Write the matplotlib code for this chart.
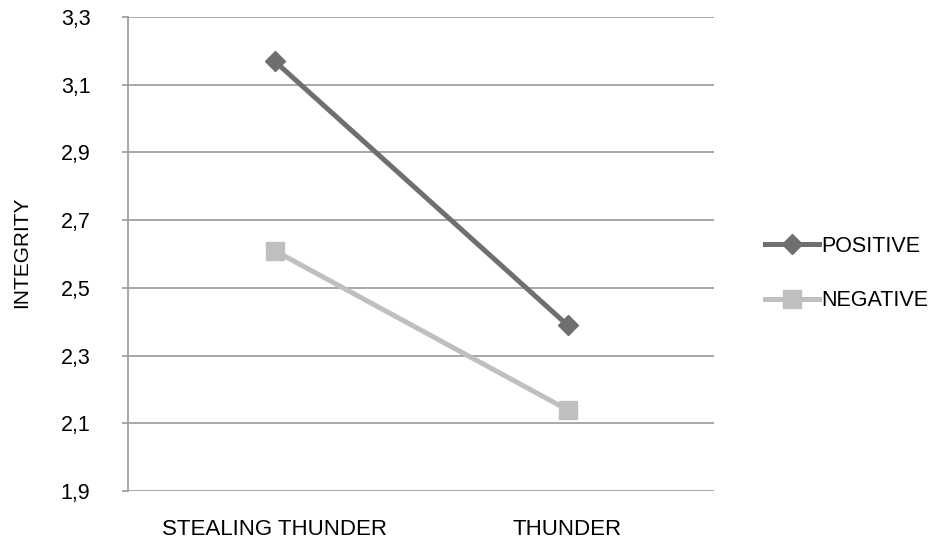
import matplotlib.pyplot as plt

# interaction plot: integrity ratings by condition
conditions = ['STEALING THUNDER', 'THUNDER']
positive = [3.17, 2.39]
negative = [2.61, 2.14]
yticks = [1.9, 2.1, 2.3, 2.5, 2.7, 2.9, 3.1, 3.3]
ytick_labels = ['1,9', '2,1', '2,3', '2,5', '2,7', '2,9', '3,1', '3,3']

plt.rcParams['font.family'] = ['Liberation Sans', 'DejaVu Sans']

fig = plt.figure(figsize=(9.32, 5.42), dpi=100)
ax = fig.add_axes([128/932, 51/542, 586/932, 474/542])

x = [0, 1]
ax.plot(x, positive, color='#6f6f6f', lw=3.6, marker='D', ms=10, label='POSITIVE', zorder=3)
ax.plot(x, negative, color='#bfbfbf', lw=3.6, marker='s', ms=13, label='NEGATIVE', zorder=3)

ax.set_xlim(-0.5, 1.5)
ax.set_ylim(1.9, 3.3)
ax.set_yticks(yticks)
ax.set_yticklabels(ytick_labels, fontsize=15.5)
ax.set_xticks(x)
ax.set_xticklabels(conditions, fontsize=16)
ax.grid(axis='y', color='#a0a0a0', lw=1.3)
ax.set_axisbelow(True)

for s in ['top', 'right', 'bottom']:
    ax.spines[s].set_visible(False)
ax.spines['left'].set_color('#a0a0a0')
ax.spines['left'].set_linewidth(1.3)
ax.tick_params(axis='y', length=4, color='#a0a0a0', width=1.3, pad=23)
ax.tick_params(axis='x', length=0, pad=20)

fig.text(22/932, 1 - 252/542, 'INTEGRITY', rotation=90, ha='center', va='center', fontsize=15)

ax.legend(loc='center left', bbox_to_anchor=(1.054, 0.459), frameon=False, fontsize=15.5,
          handlelength=2.5, labelspacing=1.55, handletextpad=0.1)

fig.savefig('out.png', dpi=100)
